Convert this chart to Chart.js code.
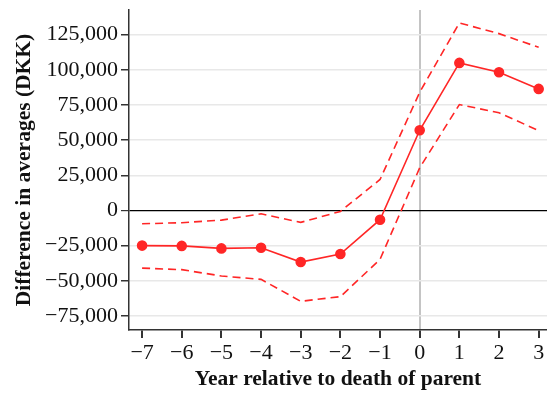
<!DOCTYPE html>
<html>
<head>
<meta charset="utf-8">
<script src="https://cdn.jsdelivr.net/npm/chart.js@4/dist/chart.umd.min.js"></script>
<style>
  html, body { margin: 0; padding: 0; background: #fff; }
  #wrap { width: 547px; height: 394px; }
</style>
</head>
<body>
<div id="wrap"><canvas id="chart"></canvas></div>
<script>
// years relative to the death of the parent
const years = [-7, -6, -5, -4, -3, -2, -1, 0, 1, 2, 3];
// point estimates and confidence bands (DKK)
const estimate = [-25000, -25200, -27000, -26500, -36700, -31000, -6600, 57000, 104900, 98200, 86400];
const upperBand = [-9500, -8700, -6900, -2400, -8500, -700, 22000, 84000, 133300, 125700, 116000];
const lowerBand = [-41000, -42100, -46600, -49000, -64600, -61300, -34800, 30300, 75300, 69400, 56800];
const yTicks = [-75000, -50000, -25000, 0, 25000, 50000, 75000, 100000, 125000];

const RED = "rgb(255, 38, 38)";
const FONT = "'Liberation Serif', 'Times New Roman', serif";

function pairs(vals) {
  return years.map((x, i) => ({ x, y: vals[i] }));
}

function fmt(v) {
  const s = Math.abs(v).toLocaleString("en-US");
  return v < 0 ? "\u2212" + s : s;
}

new Chart(document.getElementById("chart"), {
  type: "line",
  data: {
    datasets: [
      {
        data: pairs(upperBand),
        borderColor: RED,
        borderWidth: 1.6,
        borderDash: [8, 5],
        pointRadius: 0,
      },
      {
        data: pairs(lowerBand),
        borderColor: RED,
        borderWidth: 1.6,
        borderDash: [8, 5],
        pointRadius: 0,
      },
      {
        data: pairs(estimate),
        borderColor: RED,
        backgroundColor: RED,
        borderWidth: 1.6,
        pointRadius: 4.5,
      },
    ],
  },
  options: {
    responsive: true,
    maintainAspectRatio: false,
    animation: false,
    layout: { autoPadding: false, padding: { top: 10, right: 0, left: 0, bottom: 0 } },
    plugins: { legend: { display: false }, tooltip: { enabled: false } },
    scales: {
      x: {
        type: "linear",
        min: -7.33,
        max: 3.21,
        afterBuildTicks: (s) => { s.ticks = years.map((v) => ({ value: v })); },
        afterFit: (s) => { s.height = 64; s.paddingLeft = 0; s.paddingRight = 0; },
        border: { color: "#333", width: 1.5 },
        grid: {
          drawTicks: true,
          tickLength: 8,
          tickColor: "#333",
          lineWidth: 2,
          color: (c) => (c.tick && c.tick.value === 0 ? "#c4c4c4" : "rgba(0,0,0,0)"),
        },
        ticks: {
          color: "#111",
          font: { family: FONT, size: 22 },
          padding: 2,
          callback: (v) => fmt(v),
        },
        title: {
          display: true,
          text: "Year relative to death of parent",
          color: "#111",
          font: { family: FONT, size: 21.5, weight: "bold" },
          padding: { top: 0, bottom: 2 },
        },
      },
      y: {
        min: -85000,
        max: 142500,
        afterBuildTicks: (s) => { s.ticks = yTicks.map((v) => ({ value: v })); },
        afterFit: (s) => { s.width = 129; s.paddingTop = 0; s.paddingBottom = 0; },
        border: { color: "#333", width: 1.5 },
        grid: {
          drawTicks: true,
          tickLength: 8,
          tickColor: "#333",
          lineWidth: (c) => (c.tick && c.tick.value === 0 ? 1.2 : 1.5),
          color: (c) => (c.tick && c.tick.value === 0 ? "#000" : "#e8e8e8"),
        },
        ticks: {
          color: "#111",
          font: { family: FONT, size: 22 },
          padding: 3,
          callback: (v) => fmt(v),
        },
        title: {
          display: true,
          text: "Difference in averages (DKK)",
          color: "#111",
          font: { family: FONT, size: 21.5, weight: "bold" },
          padding: { top: 12, bottom: 0 },
        },
      },
    },
  },
});
</script>
</body>
</html>
